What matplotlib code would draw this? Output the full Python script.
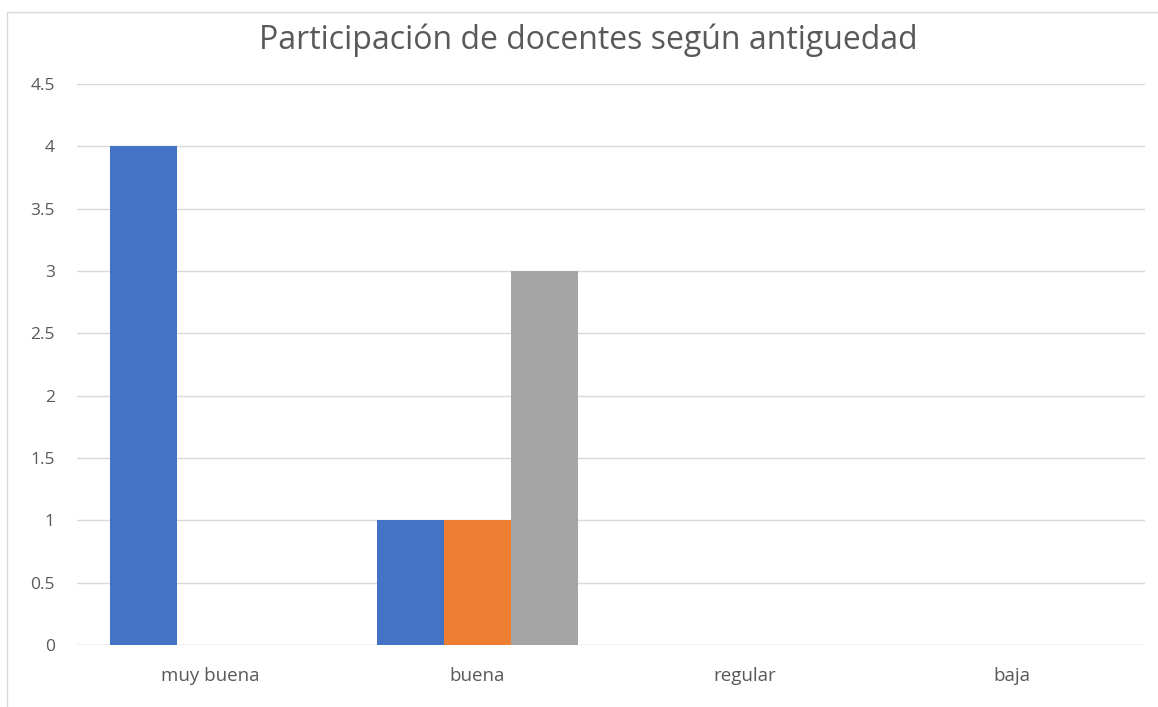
import numpy as np
import matplotlib.pyplot as plt
from matplotlib.patches import Rectangle

categories = ["muy buena", "buena", "regular", "baja"]
serie1 = [4, 1, 0, 0]
serie2 = [0, 1, 0, 0]
serie3 = [0, 3, 0, 0]
colors = ["#4472C4", "#ED7D31", "#A5A5A5"]

plt.rcParams['font.family'] = ['Open Sans', 'DejaVu Sans']

fig = plt.figure(figsize=(11.58, 7.07), dpi=100)
ax = fig.add_axes([77 / 1158, 1 - 645 / 707, (1145 - 77) / 1158, (645 - 84) / 707])

# marco del grafico
fig.patches.append(Rectangle((7 / 1158, -0.1), 1.1, 1 - 12 / 707 + 0.1,
                             transform=fig.transFigure, fill=False,
                             edgecolor="#D9D9D9", linewidth=1))

x = np.arange(len(categories))
w = 0.25
for i, (vals, c) in enumerate(zip([serie1, serie2, serie3], colors)):
    ax.bar(x + (i - 1) * w, vals, width=w, color=c, zorder=3)

ax.set_xlim(-0.5, len(categories) - 0.5)
ax.set_ylim(0, 4.5)
ax.set_yticks(np.arange(0, 4.51, 0.5))
ax.set_yticklabels(["0", "0.5", "1", "1.5", "2", "2.5", "3", "3.5", "4", "4.5"])
ax.set_xticks(x)
ax.set_xticklabels(categories)
ax.tick_params(length=0, labelsize=12.5, colors="#595959")
ax.tick_params(axis="x", labelsize=13.5, pad=16)
ax.tick_params(axis="y", pad=16)
ax.grid(axis="y", color="#D9D9D9", linewidth=1, zorder=0)
for s in ax.spines.values():
    s.set_visible(False)
ax.axhline(0, color="#D9D9D9", linewidth=1, zorder=1)

fig.text(588 / 1158, 1 - 40 / 707, "Participación de docentes según antiguedad",
         ha="center", va="center", fontsize=23, color="#595959")

plt.savefig("out.png", dpi=100)
